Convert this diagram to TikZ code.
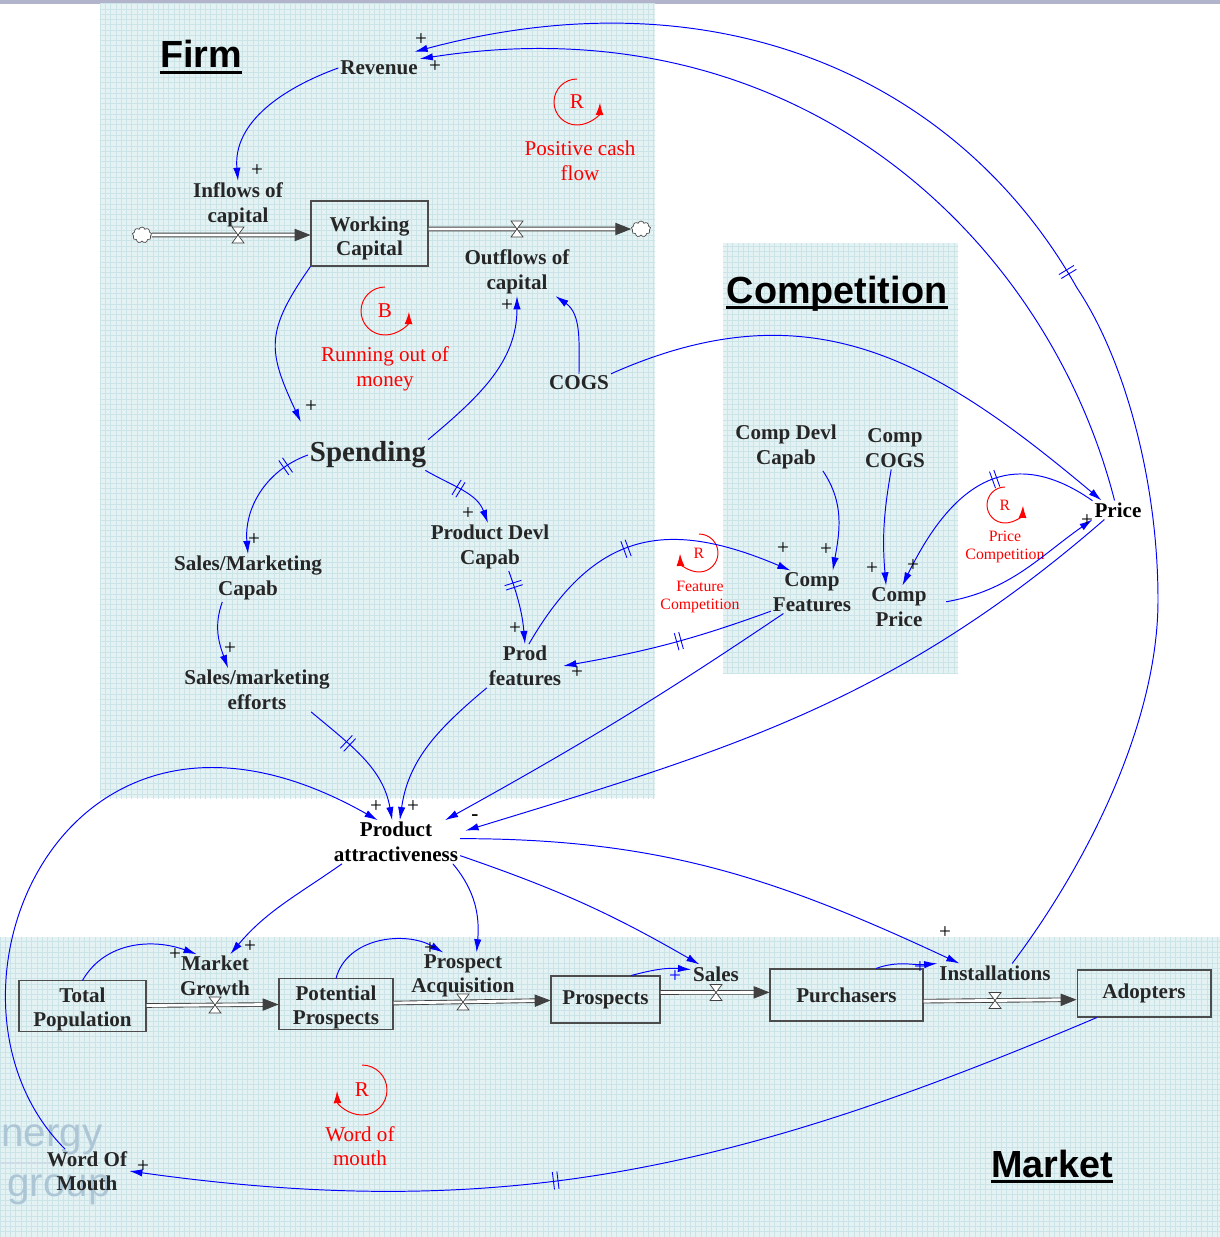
\documentclass[tikz,border=0pt]{standalone}
\usepackage{fontspec}
\setmainfont{Liberation Serif}
\setsansfont{Liberation Sans}
\usetikzlibrary{arrows.meta,shapes.symbols,decorations.markings,patterns}
\definecolor{bgblue}{RGB}{229,242,244}
\definecolor{gridblue}{RGB}{203,228,232}
\definecolor{topbar}{RGB}{178,180,204}
\definecolor{wmark}{RGB}{172,198,214}
\definecolor{vartext}{RGB}{38,38,38}
\newcommand\sdvar{\fontsize{12}{14}\selectfont\bfseries}
\newcommand\sdlab{\fontsize{12}{14}\selectfont}
\newcommand\sdsmall{\fontsize{9}{10.5}\selectfont}

\begin{document}
\begin{tikzpicture}[x=0.02cm, y=0.02cm,
    var/.style={font=\sdvar, text=vartext, align=center, inner sep=1pt},
    keyvar/.style={var, text=black},
    stock/.style={var, draw=black!70, line width=0.6pt, inner sep=0pt},
    link/.style={draw=blue, line width=0.55pt, -{Latex[length=7.5pt,width=4.2pt]}},
    pipe/.style={draw=black!75, line width=0.5pt, double=white, double distance=1.6pt, -{Triangle[length=9pt,width=7pt]}},
    pol/.style={font=\sdlab, inner sep=0pt},
    delaymark/.style={postaction={decorate, decoration={markings, mark=at position #1 with {\draw[blue, line width=0.5pt, -] (-1.3pt,-5pt) -- (-1.3pt,5pt) (1.3pt,-5pt) -- (1.3pt,5pt);}}}},
    loopline/.style={red, line width=0.55pt, -{Latex[length=7pt,width=4.5pt]}},
    looplab/.style={font=\sdlab, text=red, align=center, inner sep=0pt},
    smalllab/.style={looplab, font=\sdsmall},
    sectitle/.style={font=\sffamily\bfseries\fontsize{21.5}{24}\selectfont, anchor=base, inner sep=0pt},
    puff/.style={cloud, cloud puffs=9, aspect=1.2, draw=black!70, fill=white, minimum width=11pt, minimum height=9pt, inner sep=0pt},
    valve/.pic={\draw[black!75, fill=white, line width=0.4pt] (-6,8) -- (6,8) -- (-6,-8) -- (6,-8) -- cycle;}]
    \useasboundingbox (0,0) rectangle (1220,-1237);
    \fill[topbar] (0,0) rectangle (1220,-4);
    \foreach \xa/\ya/\xb/\yb in {100/-4/655/-798, 723/-243/958/-673, 0/-937/1220/-1237} {
        \fill[bgblue] (\xa,\ya) rectangle (\xb,\yb);
        \fill[pattern=grid, pattern color=gridblue] (\xa,\ya) rectangle (\xb,\yb);
    }
    \node [font=\sffamily\fontsize{23}{24}\selectfont, text=wmark, anchor=base west, inner sep=0pt] (wm1) at (1,-1146) {nergy};
    \node [font=\sffamily\fontsize{23}{24}\selectfont, text=wmark, anchor=base west, inner sep=0pt] (wm2) at (7,-1196) {group};
    \draw[wmark!60, line width=1pt] (0,-1163) -- (100,-1163);

    \node [sectitle] (firmt) at (201,-68) {Firm};
    \node [sectitle] (compt) at (837,-303) {Competition};
    \node [sectitle] (markt) at (1052,-1177) {Market};
    \foreach \t in {firmt,compt,markt}
        \draw[line width=1.8pt] ([yshift=-2.6pt]\t.base west) -- ([yshift=-2.6pt]\t.base east);

    \draw[loopline] (577,-102) ++(90:23) arc (90:358:23);
    \node [looplab] (lpos) at (577,-102) {R};
    \node [looplab] (lposl) at (580,-161) {Positive cash\\flow};
    \draw[loopline] (385,-311) ++(90:24) arc (90:358:24);
    \node [looplab] (lrun) at (385,-311) {B};
    \node [looplab] (lrunl) at (385,-369) {Running out of\\money};
    \draw[loopline] (699,-553) ++(90:19) arc (90:-178:19);
    \node [smalllab] (lfeat) at (699,-553) {R};
    \node [smalllab] (lfeatl) at (700,-597) {Feature\\Competition};
    \draw[loopline] (1005,-505) ++(90:18) arc (90:358:18);
    \node [smalllab] (lprice) at (1005,-505) {R};
    \node [smalllab] (lpricel) at (1005,-547) {Price\\Competition};
    \draw[loopline] (362,-1090) ++(90:25) arc (90:-178:25);
    \node [looplab] (lwom) at (362,-1090) {R};
    \node [looplab] (lwoml) at (360,-1146) {Word of\\mouth};

    \node [var] (rev) at (379,-68) {Revenue};
    \node [var] (inflow) at (238,-205) {Inflows of\\capital};
    \node [stock, minimum width=2.34cm, minimum height=1.3cm] (wc) at (369.5,-233.5) {\rule{0pt}{14pt}Working\\Capital};
    \node [var] (outflow) at (517,-272) {Outflows of\\capital};
    \node [var] (cogs) at (579,-383) {COGS};
    \node [var, font=\fontsize{16.5}{18}\selectfont\bfseries] (spend) at (368,-455) {Spending};
    \node [var] (smcap) at (248,-578) {Sales/Marketing\\Capab};
    \node [var] (pdcap) at (490,-547) {Product Devl\\Capab};
    \node [var] (smeff) at (257,-690) {Sales/marketing\\efforts};
    \node [var] (pfeat) at (525,-666) {Prod\\features};
    \node [var] (cdcap) at (786,-447) {Comp Devl\\Capab};
    \node [var] (ccogs) at (895,-448) {Comp\\COGS};
    \node [var] (cfeat) at (812,-592) {Comp\\Features};
    \node [var] (cprice) at (899,-607) {Comp\\Price};
    \node [keyvar] (price) at (1118,-510) {Price};
    \node [keyvar] (pa) at (396,-842) {Product\\attractiveness};
    \node [stock, minimum width=2.54cm, minimum height=1.0cm] (tpop) at (82.5,-1006) {\rule{0pt}{12pt}Total\\Population};
    \node [stock, minimum width=2.28cm, minimum height=0.96cm] (pprosp) at (336,-1004) {\rule{0pt}{12pt}Potential\\Prospects};
    \node [stock, minimum width=2.18cm, minimum height=0.94cm] (prosp) at (605.5,-999.5) {Prospects};
    \node [stock, minimum width=3.06cm, minimum height=1.04cm] (purch) at (846.5,-995) {Purchasers};
    \node [stock, minimum width=2.68cm, minimum height=0.94cm] (adopt) at (1144,-993.5) {Adopters};
    \node [var] (mgrow) at (215,-976) {Market\\Growth};
    \node [var] (pacq) at (463,-976) {Prospect\\Acquisition};
    \node [var] (sales) at (716,-974) {Sales};
    \node [var] (inst) at (995,-973) {Installations};
    \node [var] (wom) at (87,-1171) {Word Of\\Mouth};

    \node [puff] (cl1) at (142,-235) {};
    \node [puff] (cl2) at (641,-229) {};
    \draw[pipe] (cl1) -- (cl1 -| wc.west);
    \draw[pipe] (wc.east |- cl2) -- (cl2);
    \draw[pipe] (tpop) -- (pprosp);
    \draw[pipe] (pprosp) -- (prosp);
    \draw[pipe] ([yshift=4pt]prosp.east) -- ([yshift=1.5pt]purch.west);
    \draw[pipe] ([yshift=-3.5pt]purch.east) -- ([yshift=-3.5pt]adopt.west);
    \foreach \vx/\vy in {238/-235, 517/-229, 215/-1005, 463/-1002, 716/-992.5, 995/-1000.5}
        \pic at (\vx,\vy) {valve};

    \draw[link] (rev.west) to[out=200,in=95] (inflow.north);
    \draw[link] (price.110) .. controls (1048,-240) and (800,0) .. (rev.north east);
    \draw[link, delaymark=0.5] (inst.29) .. controls (1090,-860) and (1158,-720) .. (1158,-600)
        .. controls (1158,-480) and (1124,-358) .. (1077,-288)
        .. controls (960,-80) and (720,30) .. ([xshift=-3pt,yshift=4pt]rev.north east);
    \draw[link] (wc.south west) to[out=235,in=115,looseness=1.3] ([shift={(-4pt,10pt)}]spend.north west);
    \draw[link] (spend.north east) to[out=40,in=270] (outflow.south);
    \draw[link] (cogs.north) to[out=90,in=-35] (outflow.-32);
    \draw[link] (cogs.north east) to[out=24,in=140,looseness=1.1] (price.150);
    \draw[link, delaymark=0.2] (spend.west) to[out=200,in=95] (smcap.north);
    \draw[link, delaymark=0.45] (spend.-15) to[out=-30,in=110] (pdcap.95);
    \draw[link] (smcap.223) to[out=250,in=110] (smeff.143);
    \draw[link, delaymark=0.2] (pdcap.-52) to[out=-70,in=95] (pfeat.north);
    \draw[link, delaymark=0.45] (pfeat.80) to[out=60,in=157,looseness=1.25] (cfeat.135);
    \draw[link, delaymark=0.45] (cfeat.205) to[out=200,in=10] (pfeat.east);
    \draw[link] (cdcap.-33) to[out=-56,in=80] (cfeat.46);
    \draw[link] (ccogs.-100) to[out=260,in=95] (cprice.121);
    \draw[link, delaymark=0.42] (price.160) to[out=145,in=64,looseness=1.3] (cprice.81);
    \draw[link] ([xshift=10pt]cprice.10) to[out=10,in=215] (price.south west);
    \draw[link] (cfeat.217) to[out=214,in=29] (pa.24);
    \draw[link] (price.215) to[out=221,in=17] ([xshift=3pt]pa.10);
    \draw[link, delaymark=0.35] (smeff.-22) to[out=-40,in=100] (pa.100);
    \draw[link] (pfeat.south west) to[out=220,in=82] (pa.80);
    \draw[link] (wom.135) .. controls (-85,-1000) and (60,-640) .. (pa.130);
    \draw[link] (pa.-158) to[out=215,in=50] (mgrow.55);
    \draw[link] (pa.-21) to[out=-50,in=85] (pacq.60);
    \draw[link] (pa.-12) to[out=-19,in=150] (sales.150);
    \draw[link] (pa.3) to[out=0,in=155] (inst.165);
    \draw[link] (tpop.north) to[out=60,in=160] (mgrow.130);
    \draw[link] (pprosp.north) to[out=75,in=150] (pacq.130);
    \draw[link] (prosp.43) to[out=15,in=175] (sales.170);
    \draw[link] (purch.42) to[out=20,in=185] (inst.north west);
    \draw[link, delaymark=0.57] (adopt.-153) to[out=203,in=-8] (wom.east);

    \foreach \px/\py [count=\i] in {435/-67, 421/-40, 257/-171, 311/-407, 507/-306, 254/-540, 468/-514,
        230/-649, 515/-629, 577/-673, 783/-549, 826/-550, 872/-569, 913/-566, 1087/-521, 376/-807,
        413/-807, 250/-947, 175/-955, 430/-949, 945/-933, 143/-1167}
        \node [pol] (p\i) at (\px,\py) {+};
    \node [pol, font=\sdvar] (pneg) at (475,-818) {-};
    \node [pol, text=blue] (pb1) at (675,-977) {+};
    \node [pol, text=blue] (pb2) at (920,-968) {+};
\end{tikzpicture}
\end{document}
